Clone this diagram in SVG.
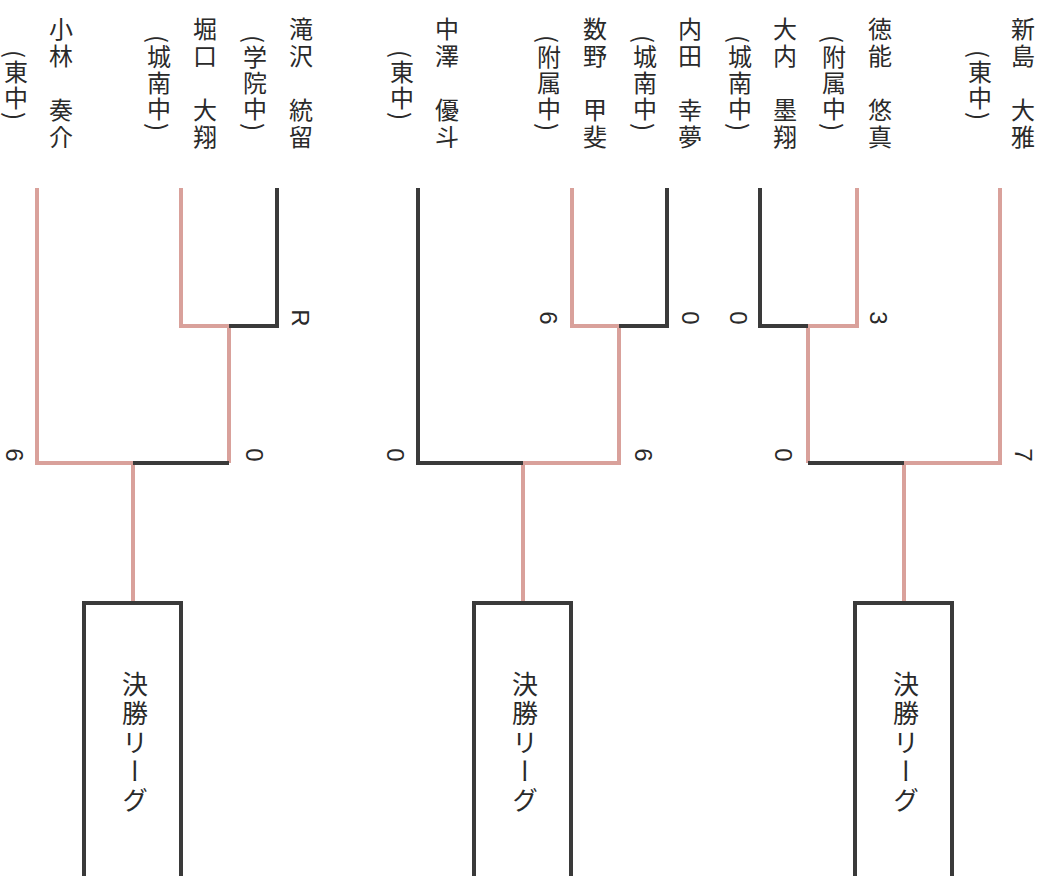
<svg xmlns="http://www.w3.org/2000/svg" width="1046" height="876" viewBox="0 0 1046 876">
<style>
.v{writing-mode:vertical-rl;font-family:"Noto Sans CJK JP","Noto Sans",sans-serif;fill:#2a2a2a;text-anchor:middle}
.nm{font-size:24px;letter-spacing:3px}
.sc{font-size:24px;letter-spacing:2px}
.num{font-size:24px;font-family:"Liberation Sans","Noto Sans",sans-serif}
.box{fill:#fff;stroke:#3a3a3a;stroke-width:4}
.bt{font-size:26px;letter-spacing:3px}
.pk{fill:none;stroke:#d9a19b;stroke-width:4}
.dk{fill:none;stroke:#3a3a3a;stroke-width:4}
</style>
<rect width="1046" height="876" fill="#fff"/>
<g id="connectors">
<path class="pk" d="M1000,188V463H904M857,188V326H808M808,326V463M904,463V603"/>
<path class="dk" d="M760,188V326H808M808,463H904"/>
<path class="pk" d="M572,188V326H619M619,326V463H523M523,463V603"/>
<path class="dk" d="M418,188V463H523M667,188V326H619"/>
<path class="pk" d="M37,188V463H133M181,188V326H229M229,326V463M133,463V603"/>
<path class="dk" d="M277,188V326H229M229,463H133"/>
</g>
<g id="p-niijima"><text class="v nm" x="1023" y="84">新島　大雅</text><text class="v sc" x="980" y="86">(東中)</text></g>
<g id="p-tokuno"><text class="v nm" x="880" y="84">徳能　悠真</text><text class="v sc" x="834" y="84">(附属中)</text></g>
<g id="p-ouchi"><text class="v nm" x="785" y="84">大内　墨翔</text><text class="v sc" x="740" y="84">(城南中)</text></g>
<g id="p-uchida"><text class="v nm" x="690" y="84">内田　幸夢</text><text class="v sc" x="645" y="84">(城南中)</text></g>
<g id="p-kazuno"><text class="v nm" x="595" y="84">数野　甲斐</text><text class="v sc" x="549" y="84">(附属中)</text></g>
<g id="p-nakazawa"><text class="v nm" x="447" y="84">中澤　優斗</text><text class="v sc" x="402" y="86">(東中)</text></g>
<g id="p-takizawa"><text class="v nm" x="301" y="84">滝沢　統留</text><text class="v sc" x="255" y="84">(学院中)</text></g>
<g id="p-horiguchi"><text class="v nm" x="205" y="84">堀口　大翔</text><text class="v sc" x="159" y="84">(城南中)</text></g>
<g id="p-kobayashi"><text class="v nm" x="61" y="84">小林　奏介</text><text class="v sc" x="16" y="86">(東中)</text></g>
<g id="scores">
<text class="v num" x="878" y="318">3</text>
<text class="v num" x="738" y="318">0</text>
<text class="v num" x="783" y="455">0</text>
<text class="v num" x="1023" y="455">7</text>
<text class="v num" x="690" y="318">0</text>
<text class="v num" x="548" y="318">6</text>
<text class="v num" x="643" y="455">6</text>
<text class="v num" x="395" y="455">0</text>
<text class="v num" x="300" y="318">R</text>
<text class="v num" x="254" y="455">0</text>
<text class="v num" x="14" y="455">6</text>
</g>
<g id="final-1"><rect class="box" x="855" y="603" width="97" height="300"/><text class="v bt" x="906" y="744">決勝リーグ</text></g>
<g id="final-2"><rect class="box" x="474" y="603" width="97" height="300"/><text class="v bt" x="525" y="744">決勝リーグ</text></g>
<g id="final-3"><rect class="box" x="84" y="603" width="97" height="300"/><text class="v bt" x="135" y="744">決勝リーグ</text></g>
</svg>
